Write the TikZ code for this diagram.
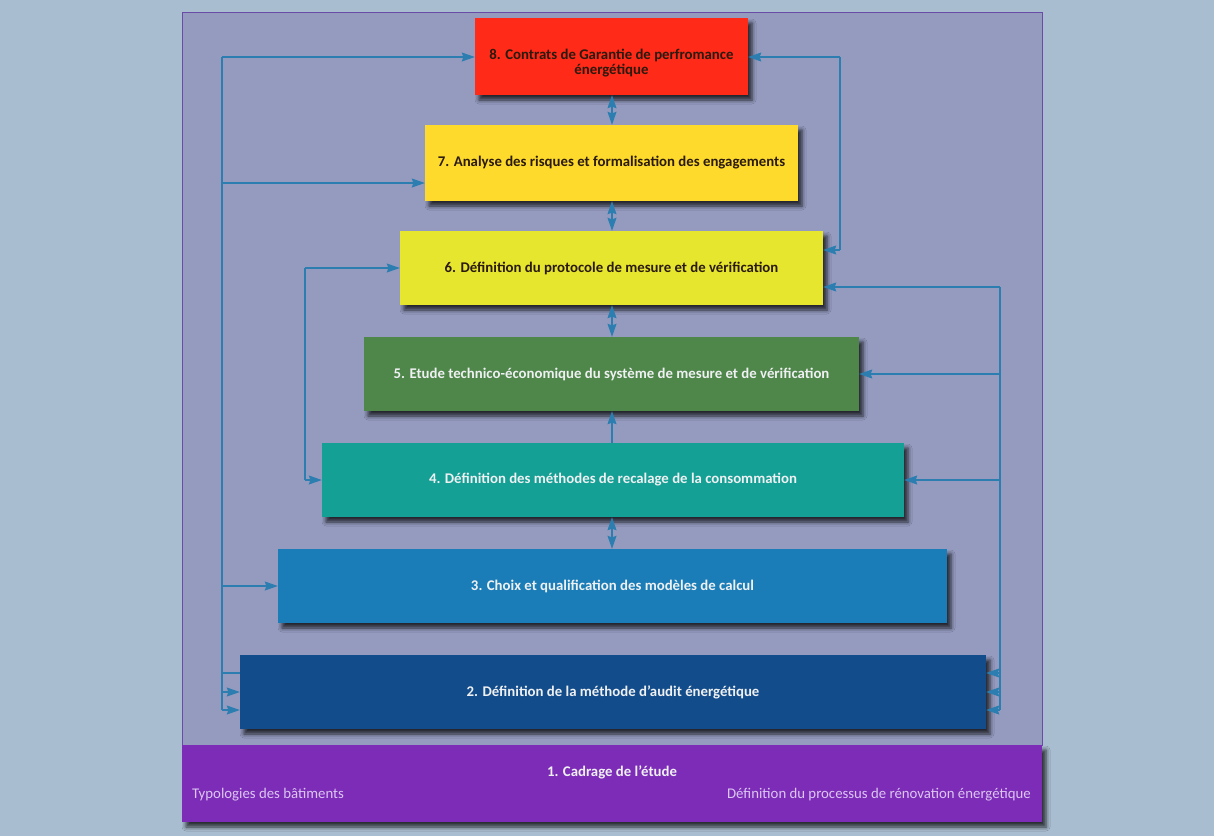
\documentclass[tikz,border=0pt]{standalone}
\usepackage{fontspec}
\setmainfont{Carlito}
\usetikzlibrary{shadows,shadows.blur,arrows.meta}
\definecolor{bgc}{HTML}{A9BDD0}
\definecolor{framefill}{HTML}{959BBF}
\definecolor{framec}{HTML}{6A4CA8}
\definecolor{c8}{HTML}{FF2A17}
\definecolor{c7}{HTML}{FDDA2C}
\definecolor{c6}{HTML}{E6E62E}
\definecolor{c5}{HTML}{4F864A}
\definecolor{c4}{HTML}{15A095}
\definecolor{c3}{HTML}{1A7DB7}
\definecolor{c2}{HTML}{134C8A}
\definecolor{c1}{HTML}{7D2CB8}
\definecolor{darktxt}{HTML}{2B1A10}
\definecolor{lighttxt}{HTML}{EEF0F2}
\definecolor{subtxt}{HTML}{DCC6F2}
\definecolor{arrc}{HTML}{2C7DB0}
\tikzset{
  stepbox/.style={rectangle, inner sep=4pt, align=center,
    font=\bfseries\fontsize{14.8}{17}\selectfont,
    blur shadow={shadow xshift=4pt, shadow yshift=-5pt, shadow blur radius=4pt, shadow opacity=75}},
  tip/.tip={Stealth[length=13pt,width=9pt,inset=1.5pt]},
  arr/.style={draw=arrc, line width=1.1pt, -tip},
  darr/.style={draw=arrc, line width=1.1pt, tip-tip},
  bus/.style={draw=arrc, line width=1.1pt},
  subtext/.style={font=\fontsize{14.8}{17}\selectfont, text=subtxt, inner sep=0pt}
}
\begin{document}
\begin{tikzpicture}[x=1pt,y=-1pt]
\useasboundingbox (0,0) rectangle (1214,836);
\fill[bgc] (0,0) rectangle (1214,836);
\draw[framec, fill=framefill, line width=0.8pt] (182,12) rectangle (1042,745);

\node[stepbox, fill=c8, minimum width=273, minimum height=77] (b8) at (611.5,56.5) {};
\node[font=\bfseries\fontsize{14.8}{15.5}\selectfont, text=darktxt, align=center, inner sep=0pt] (t8) at (611.5,63) {8. Contrats de Garantie de perfromance\\énergétique};
\node[stepbox, fill=c7, text=darktxt, minimum width=373, minimum height=76] (b7) at (611.5,163) {7. Analyse des risques et formalisation des engagements};
\node[stepbox, fill=c6, text=darktxt, minimum width=423, minimum height=74] (b6) at (611.5,268) {6. Définition du protocole de mesure et de vérification};
\node[stepbox, fill=c5, text=lighttxt, minimum width=495, minimum height=74] (b5) at (611.5,374) {5. Etude technico-économique du système de mesure et de vérification};
\node[stepbox, fill=c4, text=lighttxt, minimum width=582, minimum height=74] (b4) at (613,480) {4. Définition des méthodes de recalage de la consommation};
\node[stepbox, fill=c3, text=lighttxt, minimum width=669, minimum height=74] (b3) at (612.5,586) {3. Choix et qualification des modèles de calcul};
\node[stepbox, fill=c2, text=lighttxt, minimum width=746, minimum height=74] (b2) at (613,692) {2. Définition de la méthode d'audit énergétique};
\node[stepbox, fill=c1, minimum width=860, minimum height=77] (b1) at (612,783.5) {};
\node[font=\bfseries\fontsize{14.8}{17}\selectfont, text=lighttxt, inner sep=0pt] (t1) at (612,772) {1. Cadrage de l'étude};
\node[subtext, anchor=west] (t1a) at (192,795) {Typologies des bâtiments};
\node[subtext, anchor=east] (t1b) at (1031,795) {Définition du processus de rénovation énergétique};

% left outer bus
\coordinate (L8) at (222,57);
\coordinate (L7) at (222,183);
\coordinate (L3) at (222,586);
\coordinate (L2a) at (222,673);
\coordinate (L2b) at (222,692);
\coordinate (L2c) at (222,710);
\draw[bus] (L8) -- (L2c);
\draw[arr] (L8) -- (b8.west |- L8);
\draw[arr] (L7) -- (b7.west |- L7);
\draw[arr] (L3) -- (b3.west |- L3);
\draw[bus] (L2a) -- (b2.west |- L2a);
\draw[arr] (L2b) -- (b2.west |- L2b);
\draw[arr] (L2c) -- (b2.west |- L2c);

% left inner bus
\coordinate (M6) at (305,268);
\coordinate (M4) at (305,480);
\draw[bus] (M6) -- (M4);
\draw[arr] (M6) -- (b6.west |- M6);
\draw[arr] (M4) -- (b4.west |- M4);

% right top bus
\coordinate (T8) at (840,57);
\coordinate (T6) at (840,250);
\draw[bus] (T8) -- (T6);
\draw[arr] (T8) -- (b8.east |- T8);
\draw[arr] (T6) -- (b6.east |- T6);

% right outer bus
\coordinate (R6) at (1000,287);
\coordinate (R5) at (1000,374);
\coordinate (R4) at (1000,480);
\coordinate (R2a) at (1000,673);
\coordinate (R2b) at (1000,692);
\coordinate (R2c) at (1000,710);
\draw[bus] (R6) -- (R2c);
\draw[arr] (R6) -- (b6.east |- R6);
\draw[arr] (R5) -- (b5.east |- R5);
\draw[arr] (R4) -- (b4.east |- R4);
\draw[arr] (R2a) -- (b2.east |- R2a);
\draw[arr] (R2b) -- (b2.east |- R2b);
\draw[arr] (R2c) -- (b2.east |- R2c);

% vertical links
\draw[darr] (b8.south -| 612,0) -- (b7.north -| 612,0);
\draw[darr] (b7.south -| 612,0) -- (b6.north -| 612,0);
\draw[darr] (b6.south -| 612,0) -- (b5.north -| 612,0);
\draw[arr] (b4.north -| 612,0) -- (b5.south -| 612,0);
\draw[darr] (b4.south -| 612,0) -- (b3.north -| 612,0);
\end{tikzpicture}
\end{document}
